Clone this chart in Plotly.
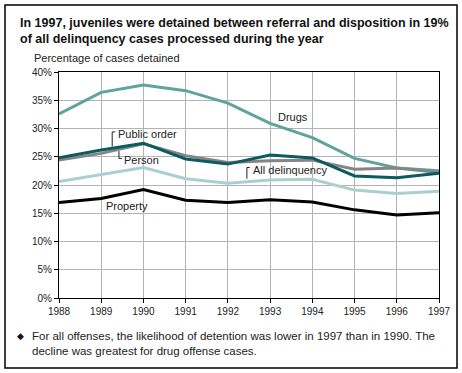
import plotly.graph_objects as go

years = [1988, 1989, 1990, 1991, 1992, 1993, 1994, 1995, 1996, 1997]
drugs = [32.6, 36.4, 37.7, 36.7, 34.5, 30.9, 28.4, 24.7, 23.0, 22.5]
public_order = [24.8, 26.2, 27.4, 24.6, 23.7, 25.3, 24.8, 21.6, 21.3, 22.1]
person = [24.4, 25.6, 27.3, 25.2, 24.0, 24.3, 24.4, 22.8, 23.0, 22.2]
all_delinquency = [20.6, 21.8, 23.1, 21.1, 20.3, 20.9, 21.0, 19.1, 18.5, 18.9]
property_ = [16.9, 17.6, 19.2, 17.3, 16.9, 17.4, 17.0, 15.6, 14.7, 15.1]
y_ticks = [0, 5, 10, 15, 20, 25, 30, 35, 40]
y_tick_labels = [f"{v}%" for v in y_ticks]

FONT = "Liberation Sans, Arial, sans-serif"

series = [
    ("Drugs", drugs, "#5fa39a"),
    ("All delinquency", all_delinquency, "#a9d0ce"),
    ("Person", person, "#858585"),
    ("Public order", public_order, "#0b5b60"),
    ("Property", property_, "#000000"),
]

fig = go.Figure()
for name, vals, col in series:
    fig.add_trace(go.Scatter(x=years, y=vals, mode="lines", name=name,
                             line=dict(color=col, width=3), showlegend=False,
                             hoverinfo="skip"))

fig.update_layout(
    width=462, height=373,
    margin=dict(l=59, r=23, t=72, b=75),
    paper_bgcolor="white", plot_bgcolor="white",
    font=dict(family=FONT, size=10, color="#222"),
)
fig.update_xaxes(range=[1988, 1997], tickvals=years, ticktext=[str(y) for y in years],
                 showgrid=True, gridcolor="#b4b4b4", gridwidth=1,
                 showline=True, linecolor="black", linewidth=1, mirror=True,
                 ticks="outside", ticklen=4, tickcolor="black", zeroline=False,
                 tickfont=dict(size=10, color="#222"))
fig.update_yaxes(range=[0, 40], tickvals=y_ticks, ticktext=y_tick_labels,
                 showgrid=True, gridcolor="#b4b4b4", gridwidth=1,
                 showline=True, linecolor="black", linewidth=1, mirror=True,
                 ticks="outside", ticklen=4, tickcolor="black", zeroline=False,
                 tickfont=dict(size=10, color="#222"))

# outer frame
fig.add_shape(type="rect", xref="paper", yref="paper", x0=-0.1421, x1=1.0474, y0=-0.31, y1=1.2965,
              line=dict(color="black", width=1.5), fillcolor="rgba(0,0,0,0)", layer="below")

ann = []
ann.append(dict(xref="paper", yref="paper", x=-0.108, y=1.257, xanchor="left", yanchor="top",
                align="left", showarrow=False,
                text="<b>In 1997, juveniles were detained between referral and disposition in 19%<br>of all delinquency cases processed during the year</b>",
                font=dict(size=12.5, color="#111", family=FONT)))
ann.append(dict(xref="paper", yref="paper", x=-0.071, y=1.062, xanchor="left", yanchor="middle",
                showarrow=False, text="Percentage of cases detained",
                font=dict(size=11, color="#222", family=FONT)))
ann.append(dict(xref="x", yref="y", x=1993.54, y=32.0, showarrow=False, text="Drugs",
                font=dict(size=11, color="#222", family=FONT)))
ann.append(dict(xref="x", yref="y", x=1989.36, y=29.1, xanchor="left", showarrow=False,
                text="Public order", font=dict(size=11, color="#222", family=FONT)))
ann.append(dict(xref="x", yref="y", x=1989.5, y=24.5, xanchor="left", showarrow=False,
                text="Person", font=dict(size=11, color="#222", family=FONT)))
ann.append(dict(xref="x", yref="y", x=1992.55, y=22.6, xanchor="left", showarrow=False,
                text="All delinquency", font=dict(size=11, color="#222", family=FONT)))
ann.append(dict(xref="x", yref="y", x=1989.6, y=16.2, showarrow=False,
                text="Property", font=dict(size=11, color="#222", family=FONT)))
ann.append(dict(xref="paper", yref="paper", x=-0.1026, y=-0.168, xanchor="center", yanchor="middle",
                showarrow=False, text="◆",
                font=dict(size=9, color="#111", family="DejaVu Sans")))
ann.append(dict(xref="paper", yref="paper", x=-0.076, y=-0.132, xanchor="left", yanchor="top",
                align="left", showarrow=False,
                text="For all offenses, the likelihood of detention was lower in 1997 than in 1990. The<br>decline was greatest for drug offense cases.",
                font=dict(size=11.5, color="#222", family=FONT)))
fig.update_layout(annotations=ann)

# leader brackets
lc = dict(color="#222", width=1)
fig.add_shape(type="path", xref="x", yref="y", path="M 1989.26 26.8 L 1989.26 29.4 L 1989.33 29.4", line=lc)
fig.add_shape(type="path", xref="x", yref="y", path="M 1989.42 26.0 L 1989.42 24.7 L 1989.49 24.7", line=lc)
fig.add_shape(type="path", xref="x", yref="y", path="M 1992.45 21.1 L 1992.45 23.1 L 1992.52 23.1", line=lc)

fig.write_html("out.html")
